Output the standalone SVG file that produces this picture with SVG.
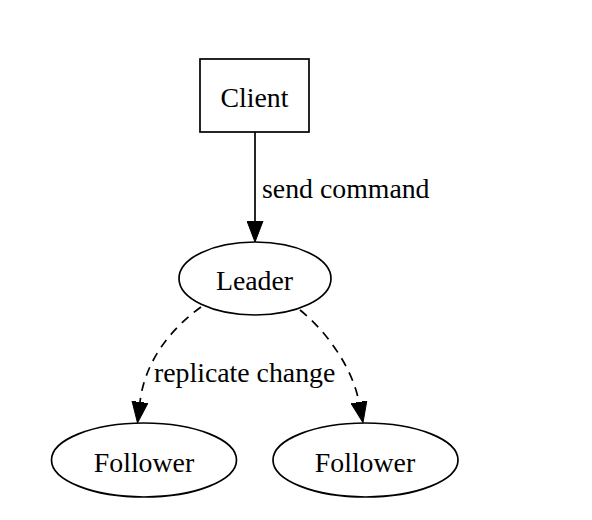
<svg xmlns="http://www.w3.org/2000/svg" width="592" height="520" viewBox="0 0 592 520">
<style>
.shape{fill:#fff;stroke:#000;stroke-width:1.7}
.lbl{font-family:"Liberation Serif","Times New Roman",serif;font-size:27.8px;fill:#000}
.edge{fill:none;stroke:#000;stroke-width:1.7}
.dash{stroke-dasharray:9 7}
</style>
<defs>
<marker id="arr" markerUnits="userSpaceOnUse" markerWidth="22" markerHeight="17" refX="0" refY="8" orient="auto" viewBox="0 0 22 16">
<path d="M0,0 L21,8 L0,16 Z" fill="#000" stroke="#000" stroke-width="1"/>
</marker>
</defs>
<rect width="592" height="520" fill="#fff"/>
<g id="connectors">
<g id="e-client-leader">
<path class="edge" d="M255,132 L255,221" marker-end="url(#arr)"/>
<text class="lbl" x="262" y="198">send command</text>
</g>
<g id="e-leader-follower1">
<path class="edge dash" d="M201,307 C172,328 145,360 140,402" marker-end="url(#arr)"/>
<text class="lbl" x="154" y="382">replicate change</text>
</g>
<g id="e-leader-follower2">
<path class="edge dash" d="M300,310 C325,330 352,366 359,402" marker-end="url(#arr)"/>
</g>
</g>
<g id="client">
<rect class="shape" x="200" y="59" width="109" height="73"/>
<text class="lbl" x="254.5" y="107" text-anchor="middle">Client</text>
</g>
<g id="leader">
<ellipse class="shape" cx="255" cy="278.5" rx="76" ry="36.5"/>
<text class="lbl" x="254.5" y="290" text-anchor="middle">Leader</text>
</g>
<g id="follower1">
<ellipse class="shape" cx="144" cy="460" rx="92.5" ry="37"/>
<text class="lbl" x="144" y="472" text-anchor="middle">Follower</text>
</g>
<g id="follower2">
<ellipse class="shape" cx="365.5" cy="460" rx="92.5" ry="37"/>
<text class="lbl" x="365" y="472" text-anchor="middle">Follower</text>
</g>
</svg>
